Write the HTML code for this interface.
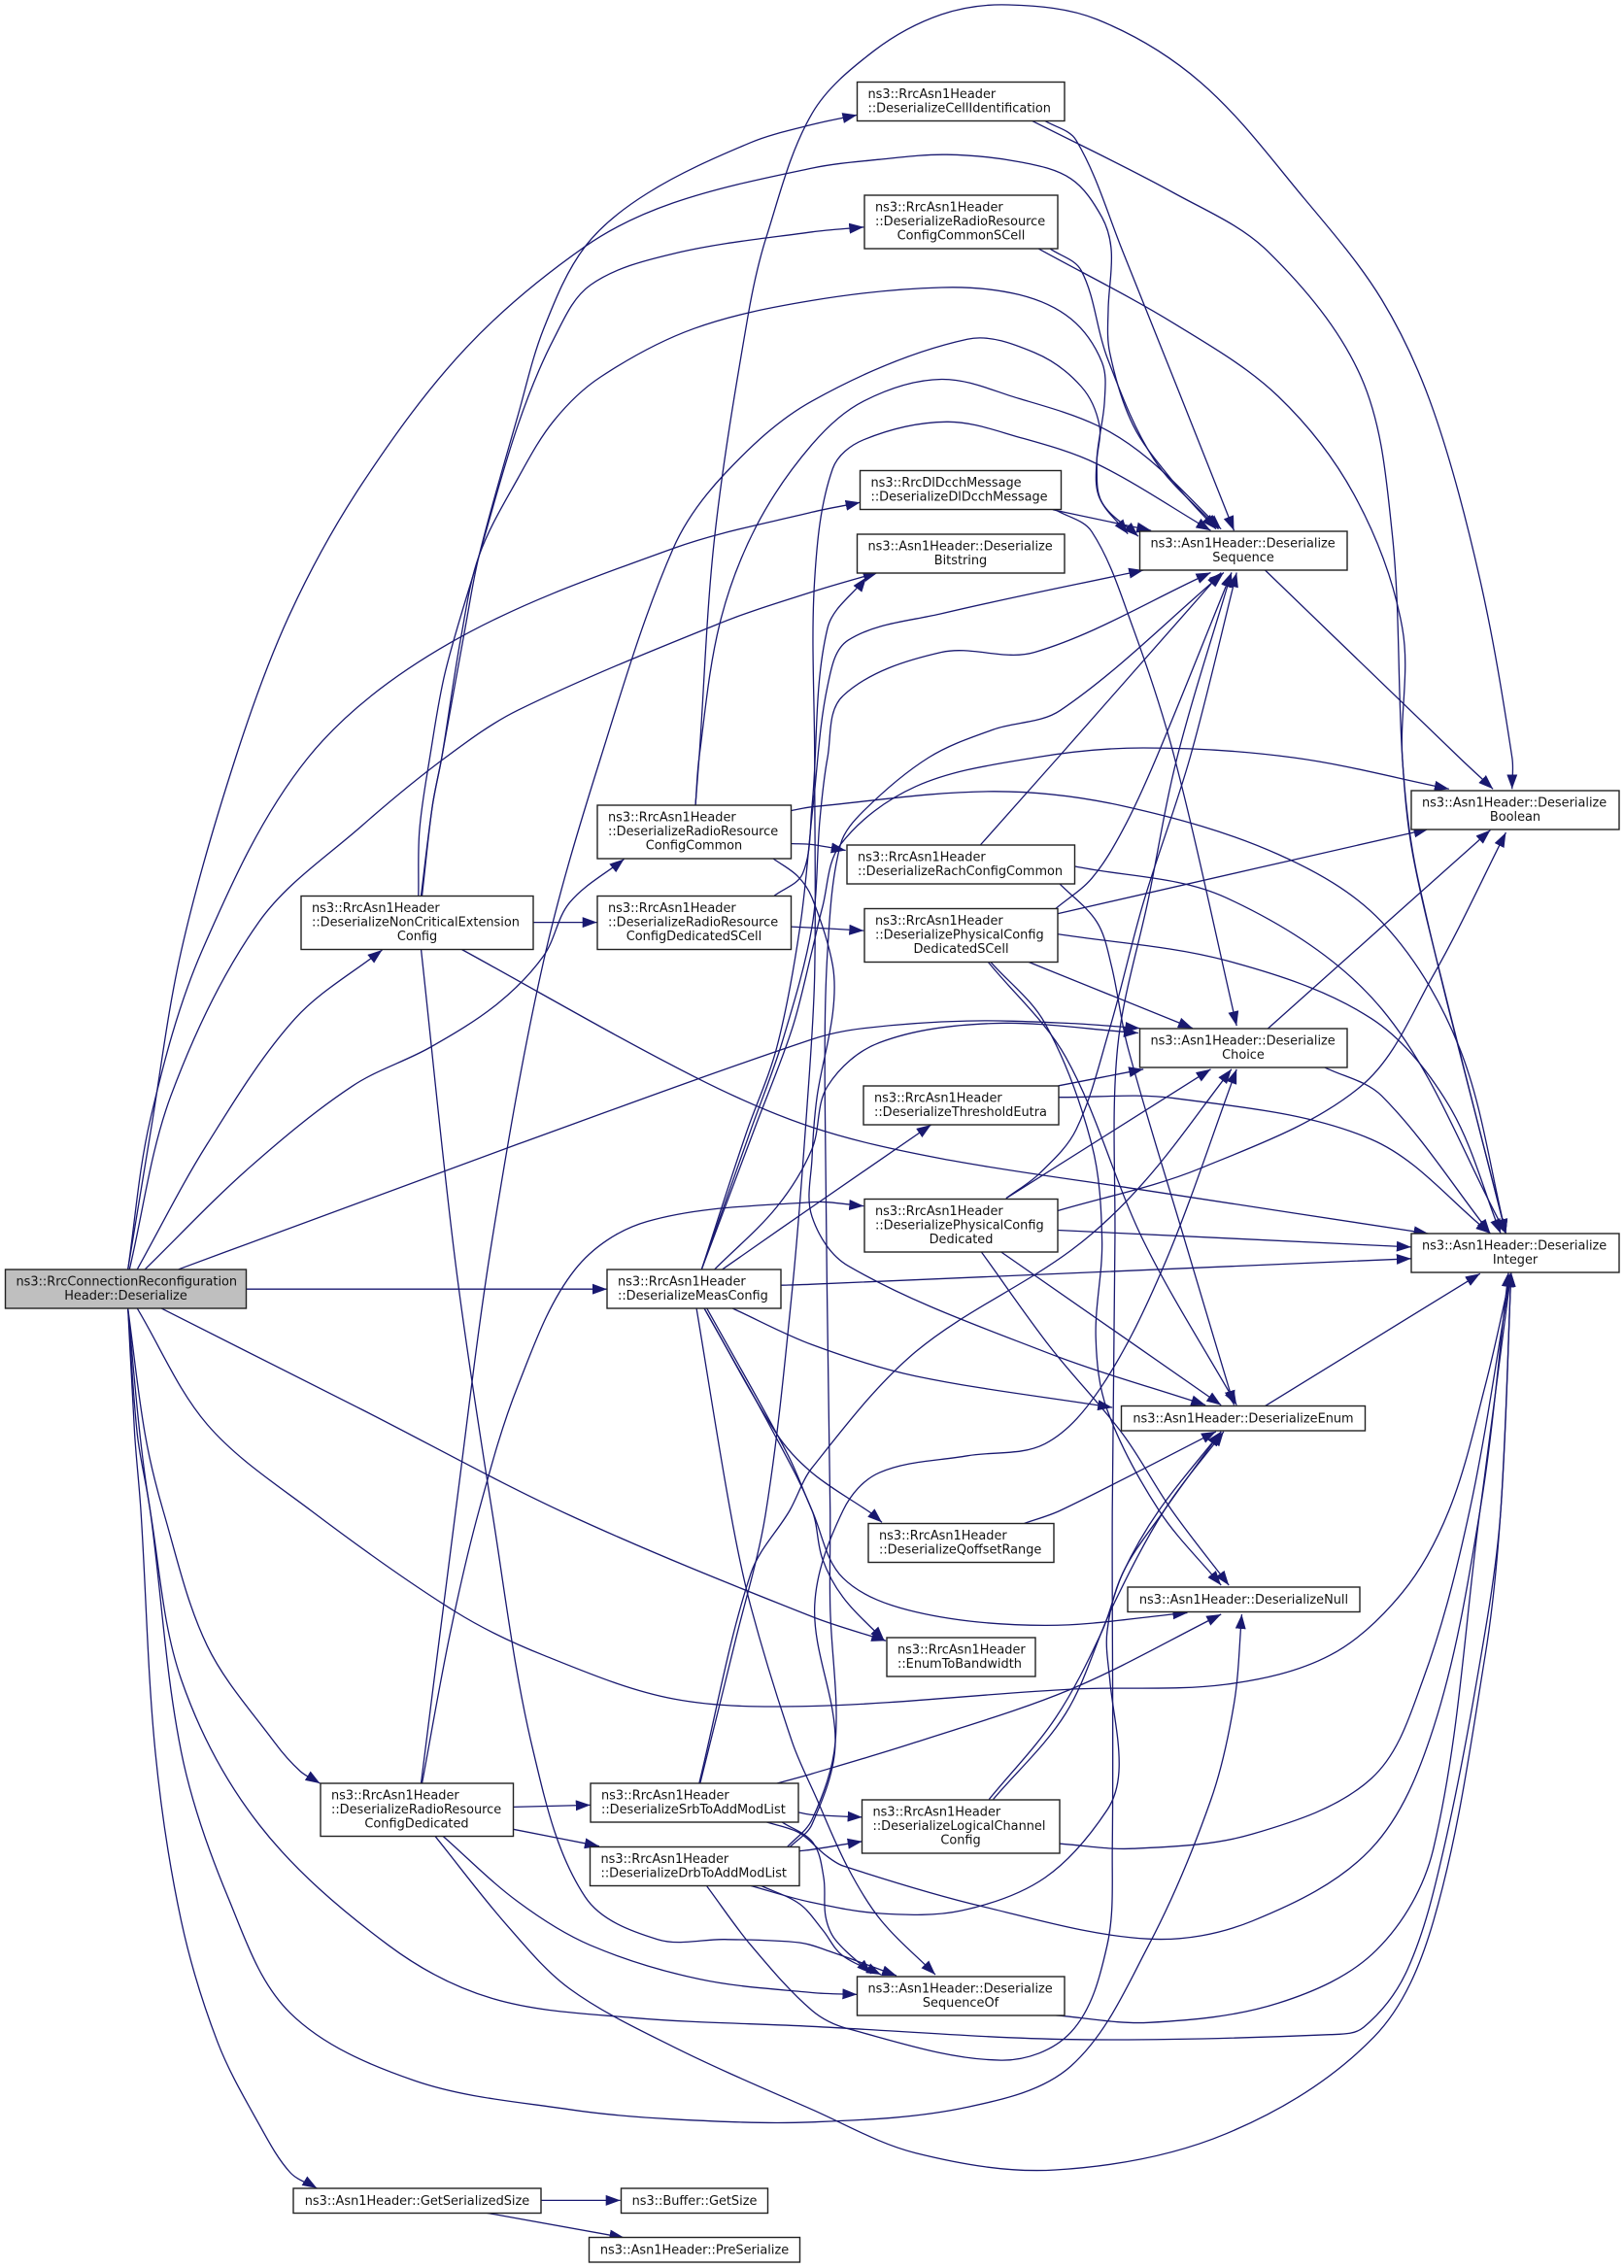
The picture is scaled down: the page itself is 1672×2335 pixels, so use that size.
<!DOCTYPE html>
<html>
<head>
<meta charset="utf-8">
<title>Call graph</title>
<style>
html,body{margin:0;padding:0;background:#fff}
svg{display:block}
rect{fill:#fff;stroke:#222;stroke-width:1.4}
rect.root{fill:#bfbfbf}
text{font-family:"DejaVu Sans","Liberation Sans",sans-serif;font-size:12.9px;fill:#111}
text.c{text-anchor:middle}
#edges path{fill:none;stroke:#191970;stroke-width:1.3}
</style>
</head>
<body>
<svg xmlns="http://www.w3.org/2000/svg" width="1672" height="2335" viewBox="0 0 1672 2335">
<defs>
<marker id="a" markerUnits="userSpaceOnUse" markerWidth="15" markerHeight="11" refX="15" refY="5.5" orient="auto" viewBox="0 0 15 11">
<path d="M0,0L15,5.5L0,11z" fill="#191970"/>
</marker>
</defs>
<g id="edges"></g>
<g id="nodes">
<rect class="root" x="5.5" y="1307" width="248" height="40"/>
<text x="16.5" y="1323.5">ns3::RrcConnectionReconfiguration</text><text class="c" x="129.5" y="1338">Header::Deserialize</text>

<rect x="310" y="922.5" width="239" height="55"/>
<text x="321" y="939">ns3::RrcAsn1Header</text><text x="321" y="953.5">::DeserializeNonCriticalExtension</text><text class="c" x="429.5" y="968">Config</text>

<rect x="615" y="829" width="199.5" height="55"/>
<text x="626" y="845.5">ns3::RrcAsn1Header</text><text x="626" y="860">::DeserializeRadioResource</text><text class="c" x="714.5" y="874.5">ConfigCommon</text>

<rect x="615" y="922.5" width="199.5" height="55"/>
<text x="626" y="939">ns3::RrcAsn1Header</text><text x="626" y="953.5">::DeserializeRadioResource</text><text class="c" x="714.5" y="968">ConfigDedicatedSCell</text>

<rect x="625" y="1307" width="179" height="40"/>
<text x="636" y="1323.5">ns3::RrcAsn1Header</text><text x="636" y="1338">::DeserializeMeasConfig</text>

<rect x="330" y="1836" width="198.5" height="54.5"/>
<text x="341" y="1852.5">ns3::RrcAsn1Header</text><text x="341" y="1867">::DeserializeRadioResource</text><text class="c" x="429" y="1881.5">ConfigDedicated</text>

<rect x="302" y="2253" width="255" height="25.5"/>
<text class="c" x="429.5" y="2270">ns3::Asn1Header::GetSerializedSize</text>

<rect x="639.5" y="2253" width="151" height="25.5"/>
<text class="c" x="715" y="2270">ns3::Buffer::GetSize</text>

<rect x="606.5" y="2303.5" width="217" height="25.5"/>
<text class="c" x="715" y="2320.5">ns3::Asn1Header::PreSerialize</text>

<rect x="608" y="1836" width="214" height="40"/>
<text x="619" y="1852.5">ns3::RrcAsn1Header</text><text x="619" y="1867">::DeserializeSrbToAddModList</text>

<rect x="607.5" y="1901.5" width="215.5" height="40"/>
<text x="618.5" y="1918">ns3::RrcAsn1Header</text><text x="618.5" y="1932.5">::DeserializeDrbToAddModList</text>

<rect x="882.5" y="84.5" width="213.5" height="40"/>
<text x="893.5" y="101">ns3::RrcAsn1Header</text><text x="893.5" y="115.5">::DeserializeCellIdentification</text>

<rect x="890" y="201" width="199" height="55"/>
<text x="901" y="217.5">ns3::RrcAsn1Header</text><text x="901" y="232">::DeserializeRadioResource</text><text class="c" x="989.5" y="246.5">ConfigCommonSCell</text>

<rect x="885.5" y="484.5" width="207" height="40"/>
<text x="896.5" y="501">ns3::RrcDlDcchMessage</text><text x="896.5" y="515.5">::DeserializeDlDcchMessage</text>

<rect x="882.5" y="550" width="213.5" height="40"/>
<text x="893.5" y="566.5">ns3::Asn1Header::Deserialize</text><text class="c" x="989" y="581">Bitstring</text>

<rect x="1173.5" y="547" width="213.5" height="40"/>
<text x="1184.5" y="563.5">ns3::Asn1Header::Deserialize</text><text class="c" x="1280" y="578">Sequence</text>

<rect x="872" y="870" width="234.5" height="40"/>
<text x="883" y="886.5">ns3::RrcAsn1Header</text><text x="883" y="901">::DeserializeRachConfigCommon</text>

<rect x="890" y="935.5" width="199" height="55"/>
<text x="901" y="952">ns3::RrcAsn1Header</text><text x="901" y="966.5">::DeserializePhysicalConfig</text><text class="c" x="989.5" y="981">DedicatedSCell</text>

<rect x="1173.5" y="1059" width="213.5" height="40"/>
<text x="1184.5" y="1075.5">ns3::Asn1Header::Deserialize</text><text class="c" x="1280" y="1090">Choice</text>

<rect x="889" y="1118" width="201" height="40"/>
<text x="900" y="1134.5">ns3::RrcAsn1Header</text><text x="900" y="1149">::DeserializeThresholdEutra</text>

<rect x="890" y="1234.5" width="199" height="54.5"/>
<text x="901" y="1251">ns3::RrcAsn1Header</text><text x="901" y="1265.5">::DeserializePhysicalConfig</text><text class="c" x="989.5" y="1280">Dedicated</text>

<rect x="894" y="1568.5" width="191" height="40"/>
<text x="905" y="1585">ns3::RrcAsn1Header</text><text x="905" y="1599.5">::DeserializeQoffsetRange</text>

<rect x="887.5" y="1853" width="203.5" height="55"/>
<text x="898.5" y="1869.5">ns3::RrcAsn1Header</text><text x="898.5" y="1884">::DeserializeLogicalChannel</text><text class="c" x="989" y="1898.5">Config</text>

<rect x="882.5" y="2035" width="213.5" height="40"/>
<text x="893.5" y="2051.5">ns3::Asn1Header::Deserialize</text><text class="c" x="989" y="2066">SequenceOf</text>

<rect x="913" y="1686" width="153" height="40"/>
<text x="924" y="1702.5">ns3::RrcAsn1Header</text><text x="924" y="1717">::EnumToBandwidth</text>

<rect x="1154.5" y="1447.5" width="251" height="25.5"/>
<text class="c" x="1280" y="1464.5">ns3::Asn1Header::DeserializeEnum</text>

<rect x="1161" y="1634" width="239" height="25.5"/>
<text class="c" x="1280.5" y="1651">ns3::Asn1Header::DeserializeNull</text>

<rect x="1453" y="814" width="214" height="40"/>
<text x="1464" y="830.5">ns3::Asn1Header::Deserialize</text><text class="c" x="1560" y="845">Boolean</text>

<rect x="1453" y="1270" width="214" height="40"/>
<text x="1464" y="1286.5">ns3::Asn1Header::Deserialize</text><text class="c" x="1560" y="1301">Integer</text>
</g>
</svg>
<script>
var E=[
/* root top */
"3 247,1059 290,780 350,400 455,0 1 560,1270 700,1000 900,720 1130,510 1300,420 1568,348 2 130,330 260,320 400,335 500,370 560,450 578,520 572,640 575,730 620,880 700,1000 780,1095",
"3 247,1059 290,750 390,400 595,0 1 870,1330 1300,1135 1568,1060 2 93,1040",
"3 250,1059 330,700 500,340 700,140 860,0 1 1000,1470 1390,1290 1568,1225 2 127,1185",
"3 265,1059 400,800 570,540 738,398",
"3 280,1059 480,850 680,680 830,600 960,510 1050,410 1100,300 1205,210",
"3 345,1059 1000,800 1568,583 4 100,560 300,545 500,550 633,560",
"3 475,1100 1172,1100",
/* root bottom */
"3 247,1140 260,1400 272,1558 5 300,500 350,850 420,1100 500,1270 560,1370 612,1403",
"3 247,1140 265,1400 290,1558 5 350,500 440,800 560,1040 800,1180 1100,1240 1300,1260 1568,1266 6 300,1235 500,1150 650,900 770,600 815,400 830,215",
"3 247,1140 270,1400 290,1558 5 350,350 500,650 750,900 950,1010 1220,1050 1568,1068 6 500,1095 1000,1085 1065,1070 1150,950 1220,700 1300,250 1330,0 4 1350,1065",
"3 247,1140 280,1400 315,1558 5 400,280 530,480 580,540 618,565",
"3 265,1140 400,1380 600,1558 5 880,210 1050,300 1300,390 1568,405 6 500,370 800,360 1000,300 1140,170 1230,0 4 1300,1300 1350,1065",
"3 312,1140 700,1350 1100,1568 5 1568,220 6 143,270",
/* NonCritical */
"3 813,286 835,100 853,0 1 900,1290 925,1150 1000,860 1050,680 1130,510 1250,400 1450,295 1568,258 2 87,238",
"3 808,286 810,150 830,0 1 860,1390 925,1150 1000,880 1070,700 1140,590 1300,525 1568,480 2 100,470",
"3 815,286 835,100 853,0 1 890,1320 925,1150 1000,990 1070,870 1160,780 1340,680 1568,622 2 250,595 400,610 500,660 560,750 565,830 550,950 555,1030 610,1105",
"3 1029,341 1153,341",
"3 890,396 1340,660 1568,765 4 250,830 640,895 1190,985",
"3 813,396 880,1050 950,1558 5 1030,500 1130,800 1270,888 1400,888 9 823,2000 857,2010 923,2034",
/* RRC common */
"3 1343,99 1350,0 1 1380,1110 1445,650 1480,490 1568,235 2 120,105 250,30 380,10 550,40 750,170 950,410 1100,620 1200,850 1290,1200 1352,1568 4 1352,65",
"3 1343,99 1350,0 1 1390,1290 1460,1090 1568,920 2 100,830 250,785 400,825 550,880 650,950 790,1095",
"3 1527,178 1568,180 4 65,192",
"3 1527,110 1568,102 4 350,70 600,100 900,200 1100,340 1250,600 1340,985",
"3 1493,209 1540,245 1568,290 4 40,430 40,530 10,700 0,830 0,950 70,1052 450,1230 760,1340",
/* Ded SCell */
"3 1527,350 1568,352 4 100,358",
"3 1495,286 1550,240 1568,100 2 30,1300 105,1195",
/* Meas top */
"3 1395,1059 1568,930 4 230,760",
"3 1380,1059 1500,930 1568,810 4 30,680 130,590 350,550 630,570",
"3 1355,1059 1440,780 1500,600 1545,350 1570,100 2 30,1420 70,1325 250,1270 640,1180",
"3 1355,1059 1450,770 1510,590 1568,350 4 15,130 30,0 2 60,1440 250,1350 430,1350 770,1185",
"3 1355,1059 1460,760 1530,560 1568,400 4 20,310 55,180 200,60 430,0 2 640,1548 930,1568 4 1230,65",
/* Meas right / bottom */
"3 1508,1092 1568,1090 4 1157,1037",
"3 1415,1140 1568,1215 4 200,1280 580,1345",
"3 1345,1140 1410,1558 5 1450,200 1530,480 9 840,1850 873,1923 907,1977 963,2033",
"3 1360,1140 1500,1400 1568,1480 4 120,1568 6 135,25",
"3 1360,1140 1480,1370 1568,1558 6 20,100 60,180 140,270",
"3 1365,1140 1520,1440 1568,1558 6 60,140 200,210 450,238 725,212",
/* RRC dedicated */
"5 813,565 880,0 3 950,1000 1050,420 1160,0 1 1300,1135 1400,980 1568,830 2 300,702 430,730 520,800 555,880 550,960 560,1040 630,1110",
"5 815,565 870,250 925,0 3 1000,1300 1110,1060 1250,960 1568,920 4 100,928",
"5 991,614 1140,610",
"5 991,660 1157,695",
"5 855,674 1000,810 1140,900 1350,970 1568,998 6 87,1002",
"5 840,674 980,860 1100,990 1300,1110 1568,1240 6 200,1330 470,1365 800,1290 1085,1090 1200,850 1300,300 1330,0 4 1350,1065",
/* Srb */
"5 1541,625 1568,630 6 97,635",
"5 1350,565 1450,130 1525,0 4 0,1470 200,1230 500,1020 640,880 810,645",
"5 1352,565 1420,270 1478,10 3 1530,1100 1560,700 4 5,450 5,0 2 5,1200 40,970 100,910 260,873 400,905 550,960 770,1098",
"5 1500,565 1568,545 6 200,480 500,370 790,215",
"5 1480,645 9 823,1887 850,1910 868,1921 6 330,820 650,887 850,850 1080,700 1200,450 1290,0 4 1345,1065",
"5 1510,645 9 837,1897 848,1933 850,1973 860,1997 897,2032",
/* Drb */
"5 1543,705 1568,702 6 97,685",
"5 1520,697 1568,640 6 45,480 35,200 35,0 4 25,700 30,400 55,180 100,110 225,0 2 350,1510 480,1470 795,1185",
"5 1525,697 1568,650 6 45,480 5,200 60,0 4 130,1480 300,1445 450,1420 560,1300 680,1050 820,645",
"5 1450,777 9 833,1958 907,1970 990,1967 6 450,760 570,620 593,530 575,350 570,250 600,130 680,0 4 790,1395",
"5 1470,777 9 823,1960 847,1987 867,2013 907,2033",
"5 1365,778 1450,900 1568,1035 6 70,1073 365,1138 500,1080 570,900 580,700 580,0 4 585,1000 590,600 650,290 705,0 2 810,1185",
/* Right column sources */
"2 450,250 510,290 600,520 815,1098",
"2 425,250 700,400 880,520 1060,780 1120,1100 1140,1568 4 1160,200 1230,520 1340,985",
"2 460,515 520,560 570,740 660,950 785,1095",
"2 438,515 700,670 900,820 1050,1030 1140,1300 1140,1568 4 1170,250 1340,985",
"2 465,1055 655,1098",
"2 470,1055 540,1100 620,1300 700,1568 4 820,555",
"2 875,1180 1250,1568 4 1315,65",
"4 325,181 475,0 2 790,1185",
"4 507,225 800,290 1100,520 1340,985",
"4 478,261 550,340 578,430 610,600 720,1000 815,1340",
"4 470,313 540,250 600,150 665,0 2 810,1185",
"4 474,323 1190,148",
"4 474,365 800,420 1080,540 1230,720 1330,985",
"4 418,423 735,560",
"4 340,423 490,620 640,1000 820,1340",
"4 345,423 450,550 540,800 560,1000 548,1200 570,1350 670,1558 6 790,155",
"4 880,561 1310,150",
"4 990,641 1100,700 1310,985",
"4 476,679 640,645",
"4 476,703 700,705 1080,790 1310,985",
"4 375,912 770,645",
"4 375,912 440,860 510,770 575,560 640,300 730,0 2 820,1185",
"4 474,938 750,850 1060,680 1200,450 1340,155",
"4 474,978 1157,1013",
"4 365,1023 790,1340",
"4 327,1023 460,1220 600,1400 695,1558 6 805,155",
"4 875,1342 1290,1068",
"6 410,27 480,0 4 780,1395",
"6 342,598 470,430 560,250 600,130 670,0 4 790,1395",
"6 350,598 490,420 580,200 680,0 4 795,1395",
"6 478,690 620,700 850,670 1080,555 1180,350 1270,0 4 1350,1065",
"6 470,1045 650,1060 900,1020 1090,910 1200,700 1290,0 4 1350,1065",
/* bottom */
"5 1044,1428 1198,1428",
"5 940,1454 1205,1505"
];
var O={1:[0,0],2:[1568,0],3:[0,1568],4:[1568,1568],5:[0,3126],6:[1568,3126]};
var SX=1672/3136,SY=2335/4694;
var g=document.getElementById("edges");
E.forEach(function(s){
  var p=1,pts=[];
  s.split(/\s+/).forEach(function(t){
    if(/^\d$/.test(t)){p=+t;return;}
    var a=t.split(",");
    var x,y;
    if(p===9){x=+a[0];y=+a[1];}
    else{x=(+a[0]+O[p][0])*SX;y=(+a[1]+O[p][1])*SY;}
    var l=pts[pts.length-1];
    if(!l||Math.hypot(l[0]-x,l[1]-y)>1)pts.push([x,y]);
  });
  var n=pts.length,d="M"+pts[0][0].toFixed(1)+","+pts[0][1].toFixed(1);
  function tan(i){
    var a=pts[Math.max(i-1,0)],b=pts[Math.min(i+1,n-1)];
    var dx=b[0]-a[0],dy=b[1]-a[1],L=Math.hypot(dx,dy)||1;
    return [dx/L,dy/L];
  }
  for(var i=0;i<n-1;i++){
    var A=pts[i],B=pts[i+1],len=Math.hypot(B[0]-A[0],B[1]-A[1])/3;
    var ta=tan(i),tb=tan(i+1);
    d+="C"+(A[0]+ta[0]*len).toFixed(1)+","+(A[1]+ta[1]*len).toFixed(1)+" "+
         (B[0]-tb[0]*len).toFixed(1)+","+(B[1]-tb[1]*len).toFixed(1)+" "+
         B[0].toFixed(1)+","+B[1].toFixed(1);
  }
  var el=document.createElementNS("http://www.w3.org/2000/svg","path");
  el.setAttribute("d",d);
  el.setAttribute("marker-end","url(#a)");
  g.appendChild(el);
});
</script>
</body>
</html>
